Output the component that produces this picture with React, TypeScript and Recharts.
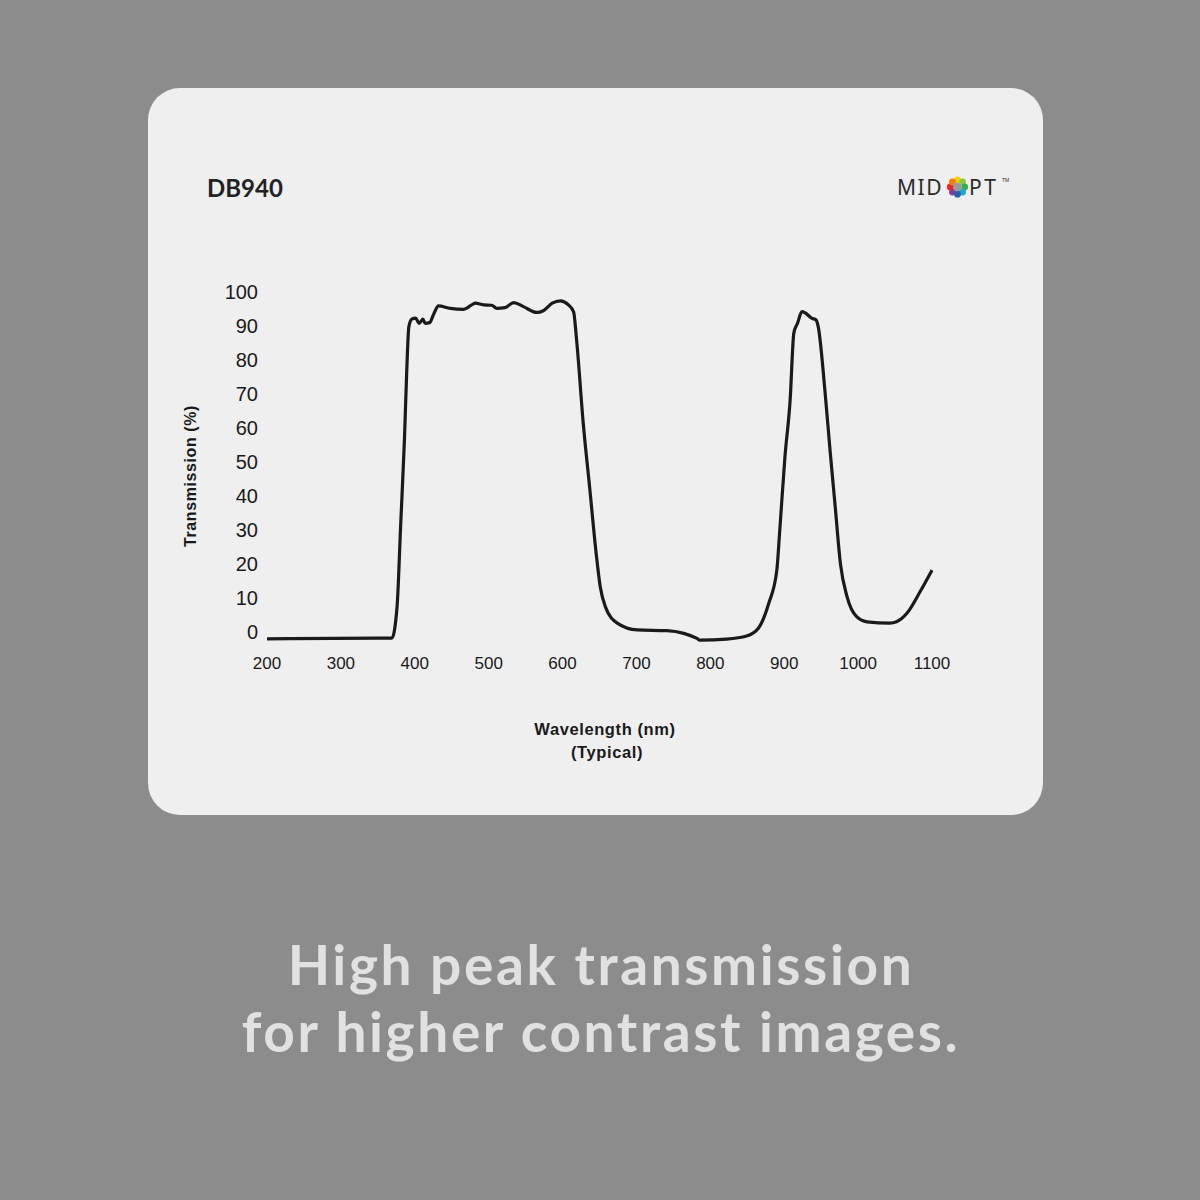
import { LineChart, Line, XAxis, YAxis } from "recharts";

// DB940 transmission curve
const wavelength = [
  200, 353, 369, 376, 381, 386, 389, 392, 396, 401, 406, 411, 414, 420, 426,
  432, 448, 466, 477, 482, 493, 504, 511, 522, 534, 547, 565, 574, 586, 597,
  608, 615, 619, 628, 637, 646, 651, 658, 674, 701, 741, 764, 782, 786, 822,
  849, 865, 879, 890, 894, 901, 908, 913, 918, 924, 928, 937, 943, 946, 955,
  962, 969, 976, 985, 998, 1012, 1043, 1052, 1066, 1084, 1100,
];
const transmission = [
  -2, -1.8, -1.8, 7.4, 32, 56.5, 76, 89.8, 92, 92.3, 90.8, 92, 90.8, 91, 93.7,
  95.9, 95.2, 94.9, 96.2, 96.7, 96.2, 96.1, 95.2, 95.4, 96.9, 95.7, 94, 94.5,
  96.7, 97.4, 96.2, 94.1, 85.9, 61.4, 41.8, 22.1, 13.3, 7.4, 2.6, 0.6, 0.4,
  -0.4, -1.9, -2.4, -2.1, -1.2, 1.1, 8.4, 18.2, 30, 51.6, 68.2, 87.9, 90.8,
  94.2, 93.9, 92.3, 91.8, 89.8, 71.2, 53.5, 36.9, 20.2, 10.4, 4.5, 3, 2.6, 3,
  5.5, 11.9, 18.2,
];
const xTicks = [200, 300, 400, 500, 600, 700, 800, 900, 1000, 1100];
const yTicks = [0, 10, 20, 30, 40, 50, 60, 70, 80, 90, 100];

const logoDots = [
  "#f4d300",
  "#8cc63f",
  "#2fb24a",
  "#1aa7d8",
  "#2a5db0",
  "#7b3f98",
  "#e3262b",
  "#f47a20",
];

const data = wavelength.map((w, i) => ({ wavelength: w, transmission: transmission[i] }));

const ARIAL = "'Liberation Sans', Arial, sans-serif";

const XTick = (props: any) => {
  const { x, y, payload } = props;
  return (
    <text
      x={x}
      y={y + 17.4}
      textAnchor="middle"
      dominantBaseline="central"
      fontFamily={ARIAL}
      fontSize={17}
      fill="#1a1a1a"
    >
      {payload.value}
    </text>
  );
};

const YTick = (props: any) => {
  const { x, y, payload } = props;
  return (
    <text
      x={x}
      y={y}
      textAnchor="end"
      dominantBaseline="central"
      fontFamily={ARIAL}
      fontSize={20}
      fill="#1a1a1a"
    >
      {payload.value}
    </text>
  );
};

const Logo = () => {
  const cx = 957.5;
  const cy = 187;
  return (
    <g>
      <text
        x={897}
        y={195}
        fontFamily="'Noto Sans', sans-serif"
        fontSize={21}
        letterSpacing={1.5}
        fill="#2b2b2b"
      >
        MID
      </text>
      {logoDots.map((c, i) => {
        const a = (i / logoDots.length) * 2 * Math.PI - Math.PI / 2;
        return (
          <circle
            key={c}
            cx={cx + 7.2 * Math.cos(a)}
            cy={cy + 7.2 * Math.sin(a)}
            r={3.4}
            fill={c}
          />
        );
      })}
      <circle cx={cx} cy={cy} r={4.3} fill="#9a9a9a" />
      <text
        x={969}
        y={195}
        fontFamily="'Noto Sans', sans-serif"
        fontSize={21}
        letterSpacing={2.5}
        fill="#2b2b2b"
      >
        PT
      </text>
      <text x={1002} y={182} fontFamily={ARIAL} fontSize={5} fill="#2b2b2b">
        TM
      </text>
    </g>
  );
};

export default function App() {
  return (
    <div
      style={{
        position: "absolute",
        left: 0,
        top: 0,
        width: 1200,
        height: 1200,
        background: "#8c8c8c",
        overflow: "hidden",
      }}
    >
      <div
        style={{
          position: "absolute",
          left: 148,
          top: 88,
          width: 895,
          height: 727,
          borderRadius: 32,
          background: "#efefef",
        }}
      />
      <div style={{ position: "absolute", left: 0, top: 0 }}>
        <LineChart
          width={1200}
          height={1200}
          data={data}
          margin={{ top: 292, right: 268, bottom: 524.4, left: 207 }}
        >
          <XAxis
            dataKey="wavelength"
            type="number"
            domain={[200, 1100]}
            ticks={xTicks}
            interval={0}
            axisLine={false}
            tickLine={false}
            tickSize={0}
            tickMargin={0}
            height={30}
            tick={<XTick />}
          />
          <YAxis
            type="number"
            domain={[-4, 100]}
            ticks={yTicks}
            interval={0}
            axisLine={false}
            tickLine={false}
            tickSize={0}
            tickMargin={9}
            width={60}
            tick={<YTick />}
          />
          <Line
            dataKey="transmission"
            type="monotone"
            stroke="#1a1a1a"
            strokeWidth={3.2}
            dot={false}
            isAnimationActive={false}
          />
        </LineChart>
      </div>
      <svg
        width={1200}
        height={1200}
        style={{ position: "absolute", left: 0, top: 0, pointerEvents: "none" }}
      >
        <text
          x={207}
          y={197}
          fontFamily="Lato, sans-serif"
          fontWeight={700}
          fontSize={24}
          fill="#222"
        >
          DB940
        </text>
        <Logo />
        <text
          x={190}
          y={476}
          transform="rotate(-90 190 476)"
          textAnchor="middle"
          dominantBaseline="central"
          fontFamily={ARIAL}
          fontWeight={700}
          fontSize={16}
          letterSpacing={0.6}
          fill="#1a1a1a"
        >
          Transmission (%)
        </text>
        <text
          x={605}
          y={735}
          textAnchor="middle"
          fontFamily={ARIAL}
          fontWeight={700}
          fontSize={16.5}
          letterSpacing={0.6}
          fill="#1a1a1a"
        >
          Wavelength (nm)
        </text>
        <text
          x={607}
          y={758}
          textAnchor="middle"
          fontFamily={ARIAL}
          fontWeight={700}
          fontSize={16.5}
          letterSpacing={0.6}
          fill="#1a1a1a"
        >
          (Typical)
        </text>
        <text
          x={601}
          y={985}
          textAnchor="middle"
          fontFamily="Lato, sans-serif"
          fontWeight={700}
          fontSize={55}
          letterSpacing={2.6}
          fill="#e1e1e1"
        >
          High peak transmission
        </text>
        <text
          x={601}
          y={1052}
          textAnchor="middle"
          fontFamily="Lato, sans-serif"
          fontWeight={700}
          fontSize={55}
          letterSpacing={2.6}
          fill="#e1e1e1"
        >
          for higher contrast images.
        </text>
      </svg>
    </div>
  );
}
